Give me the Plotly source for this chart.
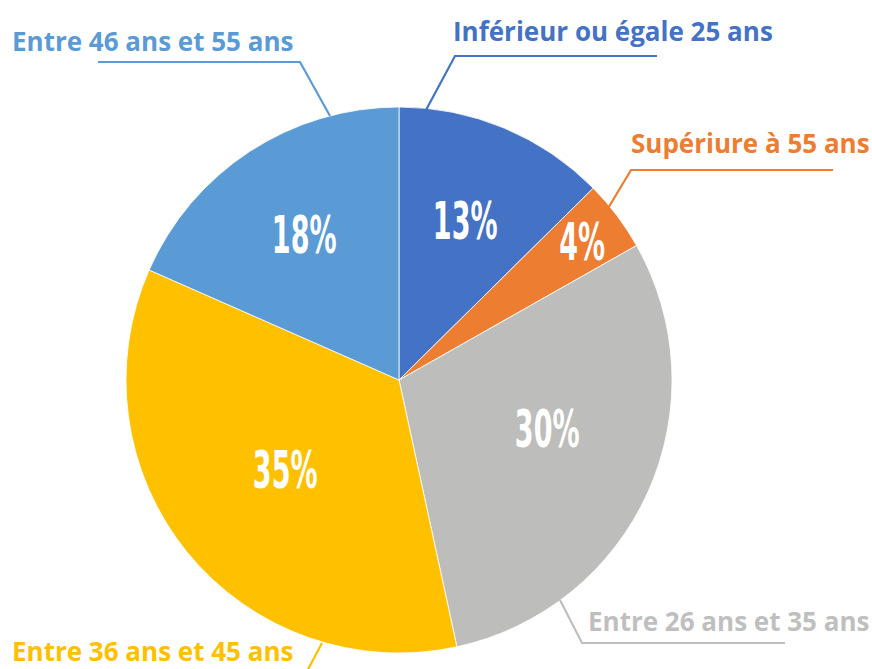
import math
import plotly.graph_objects as go

# ---- data ----
categories = ["Inférieur ou égale 25 ans", "Supériure à 55 ans", "Entre 26 ans et 35 ans",
              "Entre 36 ans et 45 ans", "Entre 46 ans et 55 ans"]
values = [12.6, 4.2, 29.8, 35.0, 18.4]
colors = ["#4472C4", "#ED7D31", "#BDBDBB", "#FFC000", "#5B9BD5"]
label_colors = ["#4472C4", "#ED7D31", "#BFBFBF", "#FFC000", "#5B9BD5"]

# ---- layout constants (pixels) ----
W, H = 872, 669
CX, CY, R = 399, 380, 273
PCT_SIZE = 52
inner_frac = [0.63, 0.84, 0.57, 0.53, 0.635]
angle_offset = [0, 0, -5.8, 1.0, 0]
label_left = [(453, 31), (631, 143), (588, 621), (12, 651), (12, 41)]
leaders = [
    [(657, 56), (455, 56), (426, 110)],
    [(833, 170), (631, 170), (607, 210)],
    [(785, 643), (582, 643), (560, 600)],
    [(322, 643), (305, 675)],
    [(98, 62), (300, 62), (330, 116)],
]

def px(x):
    return x / W

def py(y):
    return 1 - y / H

fig = go.Figure(go.Pie(
    labels=categories, values=values, sort=False, direction="clockwise", rotation=0,
    marker=dict(colors=colors, line=dict(color="white", width=0.8)),
    textinfo="none", hoverinfo="label+percent", showlegend=False,
    domain=dict(x=[px(CX - R), px(CX + R)], y=[py(CY + R), py(CY - R)]),
))

total = sum(values)
cum = 0.0
for i, v in enumerate(values):
    mid = (cum + v / 2) / total * 2 * math.pi + math.radians(angle_offset[i])
    cum += v
    r = R * inner_frac[i]
    x = CX + r * math.sin(mid)
    y = CY - r * math.cos(mid)
    fig.add_annotation(x=px(x), y=py(y), xref="paper", yref="paper",
                       text=f"{round(v / total * 100)}%", showarrow=False,
                       font=dict(family="DejaVu Sans", size=PCT_SIZE, color="white", weight="bold"),
                       xanchor="center", yanchor="middle")
    lx, ly = label_left[i]
    fig.add_annotation(x=px(lx), y=py(ly), xref="paper", yref="paper",
                       text=categories[i], showarrow=False,
                       font=dict(family="Open Sans, sans-serif", size=26,
                                 color=label_colors[i], weight="bold"),
                       xanchor="left", yanchor="middle", xshift=-2)
    pts = leaders[i]
    path = "M " + " L ".join(f"{px(a)},{py(b)}" for a, b in pts)
    fig.add_shape(type="path", path=path, xref="paper", yref="paper",
                  line=dict(color=colors[i] if i != 2 else "#BFBFBF", width=2.2))

fig.update_layout(width=W, height=H, margin=dict(l=0, r=0, t=0, b=0),
                  paper_bgcolor="white", plot_bgcolor="white")

# remove page margin; condense the percentage labels (reference uses a narrow display face)
post = """
document.body.style.margin = '0';
var gd = document.getElementById('{plot_id}');
function condense(){
  gd.querySelectorAll('text.annotation-text').forEach(function(t){
    if (/^\\d+%$/.test(t.textContent.trim())) {
      t.removeAttribute('transform');
      var b = t.getBBox();
      var cx = b.x + b.width/2, cy = b.y + b.height/2;
      t.setAttribute('transform', 'translate('+cx+','+cy+') scale(0.52,1) translate('+(-cx)+','+(-cy)+')');
    }
  });
}
condense();
gd.on && gd.on('plotly_afterplot', condense);
"""
fig.write_html("out.html", post_script=post, config={"displayModeBar": False})
